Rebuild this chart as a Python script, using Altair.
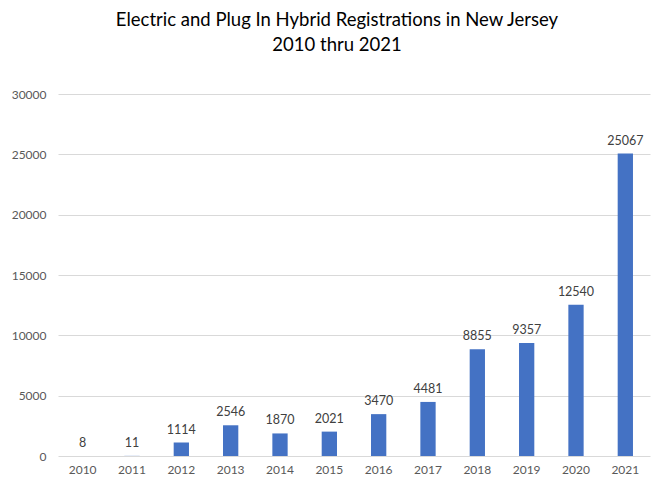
import altair as alt
import pandas as pd

years = ["2010", "2011", "2012", "2013", "2014", "2015", "2016", "2017", "2018", "2019", "2020", "2021"]
registrations = [8, 11, 1114, 2546, 1870, 2021, 3470, 4481, 8855, 9357, 12540, 25067]
y_ticks = [0, 5000, 10000, 15000, 20000, 25000, 30000]
title_text = "Electric and Plug In Hybrid Registrations in New Jersey"
subtitle_text = "2010 thru 2021"

df = pd.DataFrame({"Year": years, "Registrations": registrations})

FONT = "Lato"

base = alt.Chart(df).encode(
    x=alt.X(
        "Year:N",
        sort=years,
        scale=alt.Scale(paddingInner=0.69, paddingOuter=0.345),
        axis=alt.Axis(
            title=None, labelAngle=0, domain=False, ticks=False, labelPadding=8,
            labelFontSize=12, labelColor="#595959", labelFont=FONT,
        ),
    ),
    y=alt.Y(
        "Registrations:Q",
        scale=alt.Scale(domain=[0, 30000], nice=False),
        axis=alt.Axis(
            values=y_ticks, title=None, domain=False, ticks=False, labelPadding=12,
            labelFontSize=12, labelColor="#595959", labelFont=FONT,
            gridColor="#d9d9d9", gridWidth=1, format="d",
        ),
    ),
)

bars = base.mark_bar(color="#4472C4")
labels = base.mark_text(
    baseline="bottom", dy=-6, fontSize=12.5, font=FONT, color="#404040"
).encode(text=alt.Text("Registrations:Q", format="d"))

chart = (
    alt.layer(bars, labels)
    .properties(
        width=592,
        height=362,
        autosize=alt.AutoSizeParams(type="none"),
        padding={"left": 50, "top": 86, "right": 8, "bottom": 24},
        background="white",
        title=alt.TitleParams(
            text=title_text, subtitle=subtitle_text,
            font=FONT, fontSize=18.5, fontWeight="normal", color="#000000",
            subtitleFont=FONT, subtitleFontSize=18.5, subtitleFontWeight="normal",
            subtitleColor="#000000", subtitlePadding=6,
            anchor="middle", dx=-17, offset=34,
        ),
    )
    .configure_view(stroke=None)
)

chart.save("out.html", embed_options={"renderer": "svg", "actions": False})
